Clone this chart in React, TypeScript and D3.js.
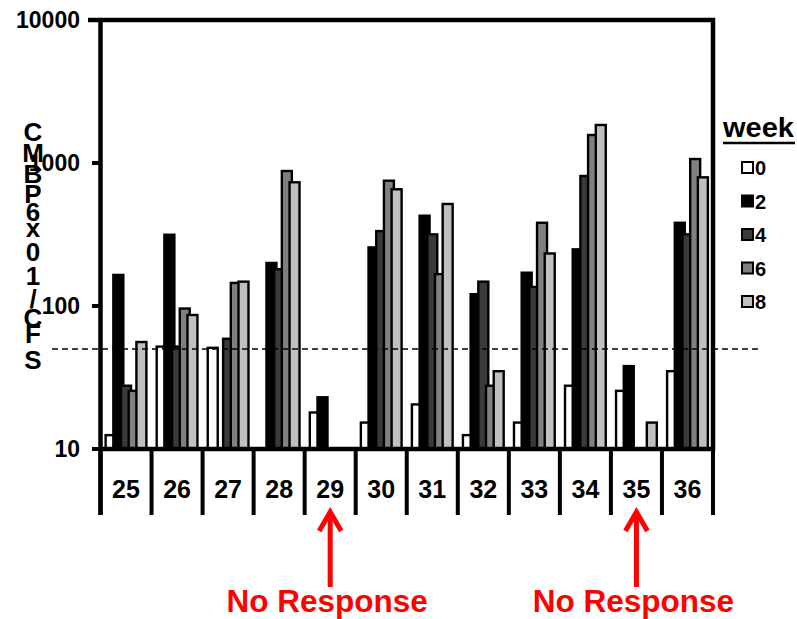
import React from "react";
import * as d3 from "d3";

const categories = ["25", "26", "27", "28", "29", "30", "31", "32", "33", "34", "35", "36"];
const seriesNames = ["0", "2", "4", "6", "8"];
const week0: (number | null)[] = [12.5, 52, 51, null, 18, 15.3, 20.5, 12.5, 15.3, 27.7, 25.5, 35];
const week2: (number | null)[] = [165, 315, null, 200, 23, 257, 428, 121, 171, 249, 38, 382];
const week4: (number | null)[] = [27.7, 52, 59, 181, null, 334, 317, 148, 136, 811, null, 317];
const week6: (number | null)[] = [25.5, 96, 145, 879, null, 752, 167, 27.7, 382, 1570, null, 1066];
const week8: (number | null)[] = [56, 86.5, 148, 733, null, 655, 517, 35, 233, 1845, 15.3, 794];
const yTicks = [10, 100, 1000, 10000];
const threshold = 50;
const noResponse = ["29", "35"];
const yLabelChars = ["C", "M", "B", "P", "6", "x", "0", "1", "/", "C", "F", "S"];

const seriesData = [week0, week2, week4, week6, week8];
const colors = ["#ffffff", "#000000", "#3a3a3a", "#808080", "#c0c0c0"];
const FONT = "Arial, 'Liberation Sans', sans-serif";

export default function App() {
  const W = 797, H = 619;
  const left = 100.5, right = 713, top = 20, bottom = 449;
  const x = d3.scaleBand<string>().domain(categories).range([left, right]).padding(0);
  const y = d3.scaleLog().domain([10, 10000]).range([bottom, top]);
  const bw = x.bandwidth();
  const barW = (10 / 51.1) * bw;
  const step = (7.7 / 51.1) * bw;
  const off = (bw - (4 * step + barW)) / 2;

  const labelYs = [132, 153, 174, 194, 212, 228, 252, 276, 299, 318, 334, 360];

  return (
    <svg width={W} height={H} style={{ position: "absolute", left: 0, top: 0, background: "#fff" }} fontFamily={FONT}>
      <rect x={0} y={0} width={W} height={H} fill="#fff" />
      {seriesData.map((s, si) =>
        s.map((v, ci) =>
          v == null ? null : (
            <rect
              key={`b${si}-${ci}`}
              x={(x(categories[ci]) as number) + off + si * step}
              y={y(v)}
              width={barW}
              height={y(10) - y(v)}
              fill={colors[si]}
              stroke="#000"
              strokeWidth={2.4}
            />
          )
        )
      )}
      <line x1={52} x2={758} y1={y(threshold)} y2={y(threshold)} stroke="#000" strokeWidth={1.6} strokeDasharray="6,4" />
      <line x1={left} x2={left} y1={top - 2} y2={515} stroke="#000" strokeWidth={4.5} />
      <line x1={88} x2={right + 2} y1={top} y2={top} stroke="#000" strokeWidth={4.5} />
      <line x1={right} x2={right} y1={top - 2} y2={bottom + 2} stroke="#000" strokeWidth={4.5} />
      <line x1={left} x2={right + 2} y1={bottom} y2={bottom} stroke="#000" strokeWidth={4.5} />
      {yTicks.map((t) => (
        <g key={`t${t}`}>
          <line x1={92} x2={left} y1={y(t)} y2={y(t)} stroke="#000" strokeWidth={4} />
          <text x={80} y={y(t)} textAnchor="end" dominantBaseline="central" fontSize={23} fontWeight="bold">
            {t}
          </text>
        </g>
      ))}
      {categories.map((c) => (
        <line key={`d${c}`} x1={x(c) as number} x2={x(c) as number} y1={bottom} y2={515} stroke="#000" strokeWidth={4} />
      ))}
      <line x1={right} x2={right} y1={bottom} y2={515} stroke="#000" strokeWidth={4} />
      {categories.map((c) => (
        <text key={`c${c}`} x={(x(c) as number) + bw / 2} y={489} textAnchor="middle" dominantBaseline="central" fontSize={25} fontWeight="bold">
          {c}
        </text>
      ))}
      {yLabelChars.map((ch, i) => (
        <text key={`l${i}`} x={33} y={labelYs[i]} textAnchor="middle" dominantBaseline="central" fontSize={26} fontWeight="bold">
          {ch}
        </text>
      ))}
      <text x={723} y={137} fontSize={28} fontWeight="bold" textLength={71} lengthAdjust="spacingAndGlyphs">week</text>
      <line x1={723} x2={795} y1={143} y2={143} stroke="#000" strokeWidth={2.5} />
      {seriesNames.map((n, i) => (
        <g key={`lg${n}`}>
          <rect x={742} y={162 + i * 33.5} width={11} height={11} fill={colors[i]} stroke="#000" strokeWidth={2} />
          <text x={755} y={168 + i * 33.5} dominantBaseline="central" fontSize={20} fontWeight="bold">
            {n}
          </text>
        </g>
      ))}
      {noResponse.map((c) => {
        const cx = (x(c) as number) + bw / 2;
        return (
          <g key={`nr${c}`}>
            <line x1={cx} x2={cx} y1={512} y2={587} stroke="#ff0000" strokeWidth={5} />
            <path d={`M${cx - 11},${531} L${cx},${512} L${cx + 11},${531}`} fill="none" stroke="#ff0000" strokeWidth={5} />
            <text x={cx - 3} y={612} textAnchor="middle" fontSize={31.5} fontWeight="bold" fill="#ff0000">
              No Response
            </text>
          </g>
        );
      })}
    </svg>
  );
}
